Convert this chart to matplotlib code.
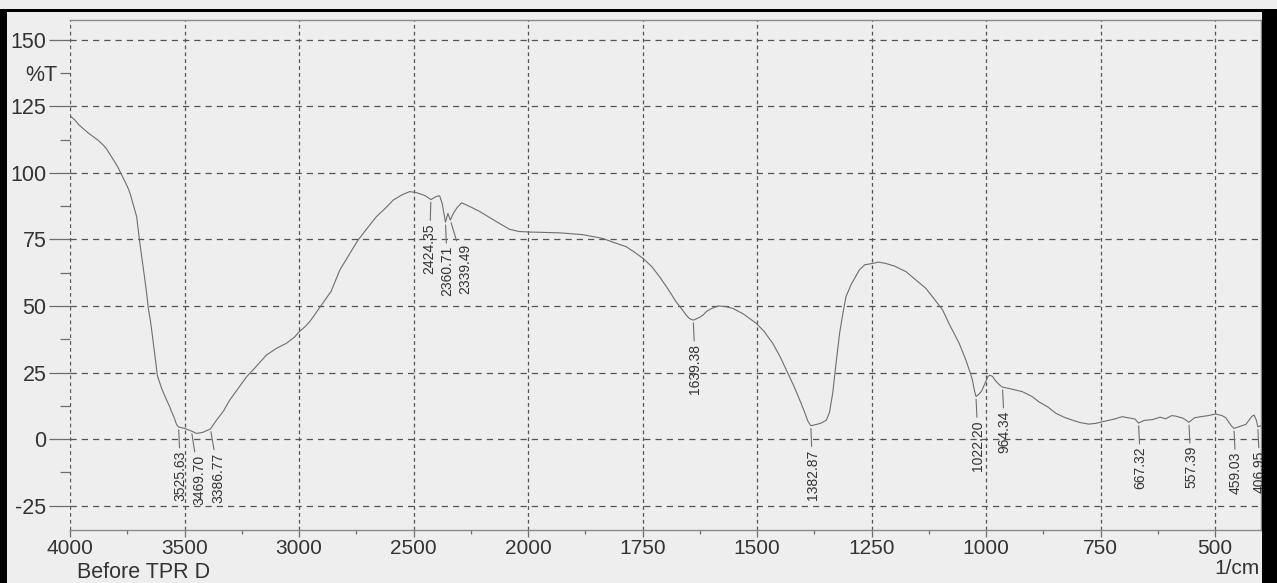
import numpy as np

import matplotlib
matplotlib.use('Agg')

import matplotlib.pyplot as plt
from matplotlib.patches import Rectangle
from matplotlib.ticker import FixedLocator, FuncFormatter

plt.rcParams['font.family'] = ['Liberation Sans', 'DejaVu Sans']

# IR transmittance spectrum (wavenumber in 1/cm, %T)
wavenumber = [
    4000, 3980, 3960, 3940, 3920, 3898, 3880, 3855, 3840, 3818, 3800, 3790,
    3774, 3760, 3750, 3738, 3725, 3709, 3704, 3695, 3690, 3680, 3673, 3665,
    3658, 3650, 3645, 3636, 3630, 3625, 3619, 3600, 3590, 3580, 3564, 3560,
    3545, 3535, 3525.63, 3500, 3469.70, 3447, 3420, 3386.77, 3360, 3330,
    3302, 3270, 3229, 3190, 3142, 3100, 3055, 3020, 2997, 2970, 2950, 2909,
    2860, 2822, 2780, 2742, 2700, 2662, 2620, 2589, 2550, 2517, 2487, 2450,
    2424.35, 2400, 2386, 2375, 2360.71, 2350, 2339.49, 2325, 2310, 2290,
    2250, 2211, 2138, 2080, 2040, 1996, 1931, 1880, 1837, 1815, 1786, 1770,
    1749, 1730, 1713, 1695, 1677, 1665, 1655, 1648, 1639.38, 1632, 1625,
    1618, 1610, 1600, 1585, 1570, 1553, 1530, 1502, 1485, 1466, 1450, 1436,
    1420, 1407, 1395, 1390, 1382.87, 1370, 1360, 1349, 1342, 1335, 1328,
    1320, 1313, 1306, 1295, 1277, 1265, 1248, 1235, 1219, 1200, 1175, 1155,
    1132, 1115, 1095, 1080, 1059, 1045, 1035, 1030, 1026, 1022.20, 1018,
    1014, 1010, 1005, 1000, 996, 992, 986, 980, 972, 964.34, 950, 921, 900,
    885, 865, 848, 830, 812, 795, 776, 760, 746, 720, 703, 690, 675, 667.32,
    655, 637, 620, 608, 595, 586, 570, 557.39, 545, 535, 515, 499, 485, 477,
    465, 459.03, 450, 433, 420, 415, 410, 406.95, 400,
]
transmittance = [
    121.5, 120.0, 118.0, 116.5, 115.0, 113.6, 112.5, 110.5, 109.0, 106.0, 103.5, 102.0,
    99.2, 96.7, 95.0, 92.4, 88.5, 83.6, 80.0, 73.6, 70.5, 64.0, 59.8, 54.5,
    49.1, 45.0, 42.0, 36.0, 32.0, 28.5, 24.0, 19.0, 17.0, 15.0, 12.0, 11.0,
    8.0, 5.5, 4.5, 4.0, 3.0, 2.1, 2.5, 3.8, 7.1, 10.5,
    14.7, 18.5, 23.4, 27.0, 31.6, 34.0, 36.0, 38.3, 40.5, 42.5, 44.5, 49.5,
    55.5, 63.5, 69.5, 74.8, 79.5, 83.6, 87.0, 89.8, 91.8, 93.0, 92.6, 91.5,
    90.0, 91.2, 91.4, 88.5, 81.5, 84.8, 82.3, 85.0, 87.0, 88.8,
    87.2, 85.5, 81.7, 78.8, 78.0, 77.8, 77.5, 76.8, 75.4, 74.0, 72.3, 70.5,
    67.9, 64.8, 61.0, 56.5, 51.6, 49.0, 46.6, 45.3, 44.7, 45.2, 45.8,
    46.6, 48.0, 49.0, 50.0, 49.8, 49.1, 47.0, 43.5, 40.5, 36.0, 31.0, 25.9,
    20.0, 14.7, 9.5, 7.0, 5.0, 5.5, 6.0, 7.1, 10.0, 17.2, 28.0,
    39.7, 47.0, 53.5, 58.0, 63.5, 65.5, 66.0, 66.5, 66.0, 65.0, 62.9, 60.0,
    56.7, 53.0, 48.5, 43.0, 36.0, 30.0, 25.0, 22.2, 18.5, 16.0, 16.5,
    17.2, 18.0, 20.0, 22.0, 23.5, 24.0, 23.5, 22.0, 20.5, 19.5, 19.0, 17.8, 16.0,
    14.0, 12.0, 9.7, 8.2, 7.1, 6.2, 5.6, 5.9, 6.5, 7.5, 8.4, 8.0, 7.5, 6.0,
    7.0, 7.3, 8.2, 7.6, 8.8, 8.6, 7.8, 6.3, 8.0, 8.3, 8.8, 9.4, 8.8, 8.0,
    5.0, 4.0, 4.5, 5.5, 8.5, 9.0, 7.0, 4.6, 5.0,
]

peaks = [3525.63, 3469.70, 3386.77, 2424.35, 2360.71, 2339.49, 1639.38,
         1382.87, 1022.20, 964.34, 667.32, 557.39, 459.03, 406.95]
peak_labels = ['3525.63', '3469.70', '3386.77', '2424.35', '2360.71', '2339.49',
               '1639.38', '1382.87', '1022.20', '964.34', '667.32', '557.39',
               '459.03', '406.95']

x_major = [4000, 3500, 3000, 2500, 2000, 1750, 1500, 1250, 1000, 750, 500]
x_minor = [3750, 3250, 2750, 2250, 1875, 1625, 1375, 1125, 875, 625]
y_major = [-25, 0, 25, 50, 75, 100, 125, 150]
y_minor = [-12.5, 12.5, 37.5, 62.5, 87.5, 112.5, 137.5]

# horizontal nudges (points) so neighbouring peak labels don't collide
label_dx = {'3469.70': 4, '3386.77': 4.5, '2424.35': -2.5, '2339.49': 9}

paper = '#eeeeee'
ink = '#6e6e6e'
text_col = '#333333'


# wavenumber axis: 500/div above 2000, 250/div below
def fwd(w):
    w = np.asarray(w, dtype=float)
    return np.where(w <= 2000, w / 250.0, 8 + (w - 2000) / 500.0)


def inv(u):
    u = np.asarray(u, dtype=float)
    return np.where(u <= 8, u * 250.0, 2000 + (u - 8) * 500.0)


W, H = 1277, 583
fig = plt.figure(figsize=(W / 100, H / 100), dpi=100, facecolor=paper)
ax = fig.add_axes([70 / W, 53 / H, 1191 / W, 510 / H], facecolor=paper)

ax.set_xscale('function', functions=(fwd, inv))
ax.set_xlim(4000, 400)
ax.set_ylim(-34.2, 157.5)

ax.plot(wavenumber, transmittance, color=ink, lw=0.8, zorder=3)

ax.xaxis.set_major_locator(FixedLocator(x_major))
ax.xaxis.set_minor_locator(FixedLocator(x_minor))
ax.xaxis.set_major_formatter(FuncFormatter(lambda v, p: f'{v:.0f}'))
ax.xaxis.set_minor_formatter(FuncFormatter(lambda v, p: ''))
ax.yaxis.set_major_locator(FixedLocator(y_major))
ax.yaxis.set_minor_locator(FixedLocator(y_minor))
ax.yaxis.set_major_formatter(FuncFormatter(lambda v, p: f'{v:.0f}'))
ax.yaxis.set_minor_formatter(FuncFormatter(lambda v, p: '%T' if abs(v - 137.5) < 1e-6 else ''))

ax.tick_params(axis='x', which='major', direction='out', length=5, width=0.9,
               color=ink, labelsize=15, labelcolor=text_col, pad=1.5)
ax.tick_params(axis='x', which='minor', direction='out', length=3, width=0.9, color=ink)
ax.tick_params(axis='y', which='major', direction='out', length=15, width=0.9,
               color=ink, labelsize=15.5, labelcolor=text_col, pad=2)
ax.tick_params(axis='y', which='minor', direction='out', length=7, width=0.9,
               color=ink, labelsize=15.5, labelcolor=text_col, pad=2)

ax.grid(axis='x', which='major', color='#555555', lw=0.9, linestyle=(0, (3, 2.5)))
ax.grid(axis='y', which='major', color='#555555', lw=0.9, linestyle=(0, (5, 4)))

ax.spines['left'].set_visible(False)
for side in ('top', 'right', 'bottom'):
    ax.spines[side].set_color('#8a8a8a')
    ax.spines[side].set_linewidth(1.0)

# peak markers: leader line from the trough down to a rotated value label
wn_asc = np.array(wavenumber)[::-1]
t_asc = np.array(transmittance)[::-1]
for pk, lbl in zip(peaks, peak_labels):
    y_pk = np.interp(pk, wn_asc, t_asc)
    ax.annotate(lbl, xy=(pk, y_pk), xytext=(1.5 + label_dx.get(lbl, 0), -17),
                textcoords='offset points', rotation=90, ha='center', va='top',
                fontsize=10, color=text_col,
                arrowprops=dict(arrowstyle='-', color=ink, lw=0.8,
                                shrinkA=0, shrinkB=2))

fig.text(77 / W, 1 - 572 / H, 'Before TPR D', fontsize=15.5, color=text_col,
         ha='left', va='center')
fig.text(1260 / W, 1 - 569 / H, '1/cm', fontsize=15, color=text_col,
         ha='right', va='center')

# black frame of the printout
for x0, y0, w, h in [(0, 9, 7, H - 9), (0, 9, W, 3), (1262, 9, W - 1262, H - 9)]:
    fig.patches.append(Rectangle((x0 / W, 1 - (y0 + h) / H), w / W, h / H,
                                 transform=fig.transFigure, facecolor='black',
                                 edgecolor='none', zorder=10))

fig.savefig('out.png', dpi=100, facecolor=paper)
plt.close(fig)
